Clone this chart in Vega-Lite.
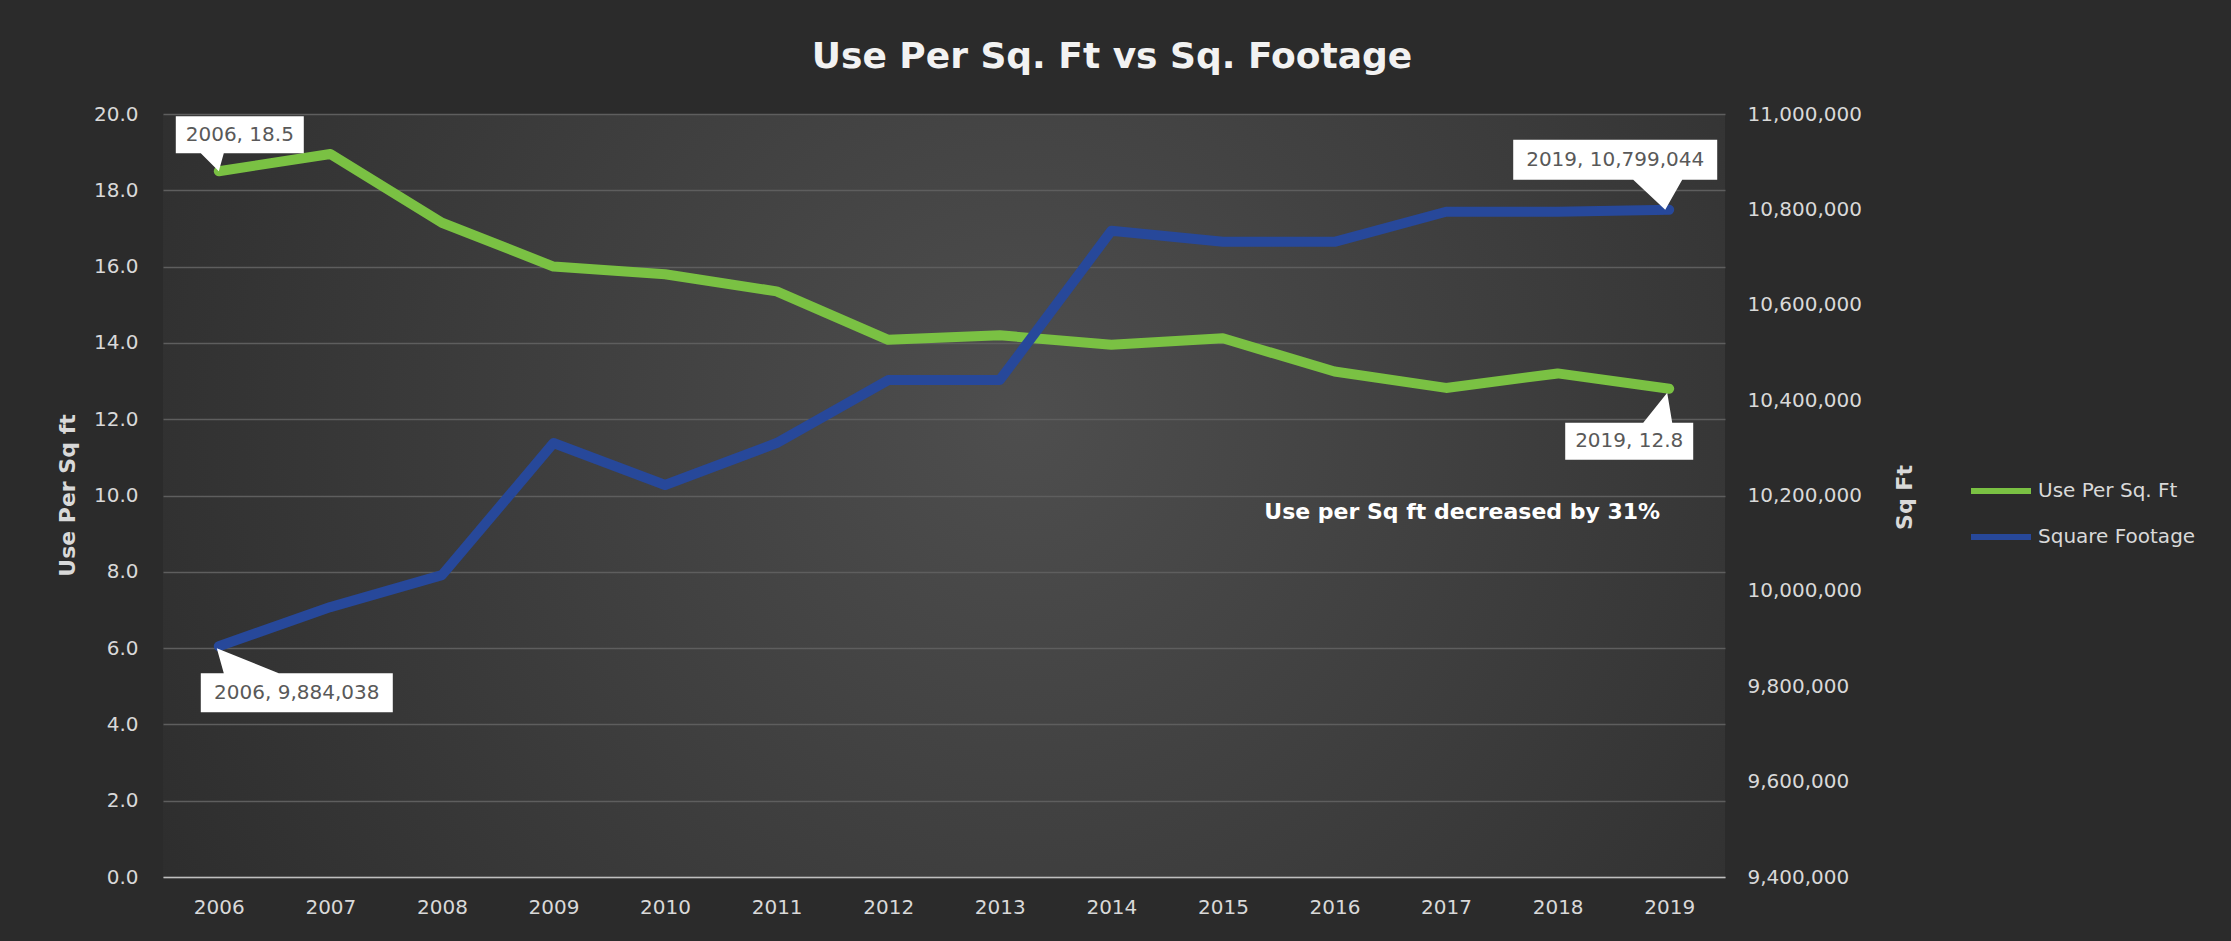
{
  "$schema": "https://vega.github.io/schema/vega-lite/v6.json",
  "width": 1562,
  "height": 763,
  "autosize": {"type": "none"},
  "padding": {"left": 163, "top": 114, "right": 506, "bottom": 64},
  "background": "#2b2b2b",
  "title": {
    "text": "Use Per Sq. Ft vs Sq. Footage",
    "font": "DejaVu Sans",
    "fontSize": 36,
    "fontWeight": "bold",
    "color": "#f2f2f2",
    "anchor": "middle",
    "frame": "group",
    "dx": 168,
    "baseline": "alphabetic",
    "offset": 0
  },
  "datasets": {
    "main": [
      {"year": "2006", "use": 18.5, "sqft": 9884038},
      {"year": "2007", "use": 18.95, "sqft": 9966000},
      {"year": "2008", "use": 17.15, "sqft": 10033000},
      {"year": "2009", "use": 16.0, "sqft": 10310000},
      {"year": "2010", "use": 15.8, "sqft": 10222000},
      {"year": "2011", "use": 15.35, "sqft": 10310000},
      {"year": "2012", "use": 14.08, "sqft": 10442000},
      {"year": "2013", "use": 14.2, "sqft": 10442000},
      {"year": "2014", "use": 13.95, "sqft": 10755000},
      {"year": "2015", "use": 14.12, "sqft": 10732000},
      {"year": "2016", "use": 13.25, "sqft": 10732000},
      {"year": "2017", "use": 12.82, "sqft": 10795000},
      {"year": "2018", "use": 13.2, "sqft": 10795000},
      {"year": "2019", "use": 12.8, "sqft": 10799044}
    ],
    "callouts": [
      {"id": "A", "year": "2006", "use": 18.5, "label": "2006, 18.5"},
      {"id": "D", "year": "2019", "use": 12.8, "label": "2019, 12.8"},
      {"id": "B", "year": "2006", "sqft": 9884038, "label": "2006,  9,884,038"},
      {"id": "C", "year": "2019", "sqft": 10799044, "label": "2019,  10,799,044"}
    ]
  },
  "encoding": {
    "x": {
      "field": "year",
      "type": "ordinal",
      "scale": {"type": "point", "padding": 0.5},
      "axis": {
        "title": null,
        "labelAngle": 0,
        "domain": true,
        "domainColor": "#bfbfbf",
        "domainWidth": 1.5,
        "labelPadding": 20,
        "grid": false
      }
    }
  },
  "layer": [
    {
      "encoding": {
        "y": {
          "field": "use",
          "type": "quantitative",
          "scale": {"domain": [0, 20], "nice": false, "zero": true},
          "axis": {
            "title": "Use Per Sq ft",
            "values": [0, 2, 4, 6, 8, 10, 12, 14, 16, 18, 20],
            "format": ".1f",
            "grid": true,
            "labelPadding": 25,
            "titleX": -96,
            "titleY": 381,
            "titleAngle": 270,
            "titleAlign": "center",
            "titleBaseline": "middle"
          }
        }
      },
      "layer": [
        {
          "data": {"name": "main"},
          "mark": {"type": "line", "strokeWidth": 10, "strokeJoin": "round", "strokeCap": "round"},
          "encoding": {
            "color": {
              "datum": "Use Per Sq. Ft",
              "scale": {"domain": ["Use Per Sq. Ft", "Square Footage"], "range": ["#7ac143", "#27489a"]},
              "legend": {"orient": "none", "legendX": 1805, "legendY": 344, "title": null}
            }
          }
        },
        {
          "data": {"name": "callouts"},
          "transform": [{"filter": "datum.id == 'A'"}],
          "mark": {"type": "point", "filled": true, "color": "#ffffff", "opacity": 1, "size": 4,
                   "shape": "M -43 -55 H 85 V -18 H 5 L 0 0 L -18 -18 H -43 Z"}
        },
        {
          "data": {"name": "callouts"},
          "transform": [{"filter": "datum.id == 'A'"}],
          "mark": {"type": "text", "align": "center", "baseline": "middle", "dx": 21, "dy": -36.5,
                   "font": "DejaVu Sans", "fontSize": 20, "color": "#595959"},
          "encoding": {"text": {"field": "label"}}
        },
        {
          "data": {"name": "callouts"},
          "transform": [{"filter": "datum.id == 'D'"}],
          "mark": {"type": "point", "filled": true, "color": "#ffffff", "opacity": 1, "size": 4,
                   "shape": "M -2 4 L 3 34 H 24 V 71 H -104 V 34 H -26 Z"}
        },
        {
          "data": {"name": "callouts"},
          "transform": [{"filter": "datum.id == 'D'"}],
          "mark": {"type": "text", "align": "center", "baseline": "middle", "dx": -40, "dy": 52.5,
                   "font": "DejaVu Sans", "fontSize": 20, "color": "#595959"},
          "encoding": {"text": {"field": "label"}}
        },
        {
          "data": {"name": "callouts"},
          "transform": [{"filter": "datum.id == 'D'"}],
          "mark": {"type": "text", "align": "center", "baseline": "middle", "dx": -207, "dy": 123,
                   "font": "DejaVu Sans", "fontSize": 22, "fontWeight": "bold", "color": "#ffffff",
                   "text": "Use per Sq ft decreased by 31%"}
        }
      ]
    },
    {
      "encoding": {
        "y": {
          "field": "sqft",
          "type": "quantitative",
          "scale": {"domain": [9400000, 11000000], "nice": false, "zero": false},
          "axis": {
            "orient": "right",
            "title": "Sq Ft",
            "values": [9400000, 9600000, 9800000, 10000000, 10200000, 10400000, 10600000, 10800000, 11000000],
            "format": ",.0f",
            "grid": false,
            "labelPadding": 22,
            "titleX": 179,
            "titleY": 383,
            "titleAngle": 270,
            "titleAlign": "center",
            "titleBaseline": "middle"
          }
        }
      },
      "layer": [
        {
          "data": {"name": "main"},
          "mark": {"type": "line", "strokeWidth": 10, "strokeJoin": "round", "strokeCap": "round"},
          "encoding": {
            "color": {
              "datum": "Square Footage",
              "scale": {"domain": ["Use Per Sq. Ft", "Square Footage"], "range": ["#7ac143", "#27489a"]},
              "legend": {"orient": "none", "legendX": 1805, "legendY": 344, "title": null}
            }
          }
        },
        {
          "data": {"name": "callouts"},
          "transform": [{"filter": "datum.id == 'B'"}],
          "mark": {"type": "point", "filled": true, "color": "#ffffff", "opacity": 1, "size": 4,
                   "shape": "M -2 2 L 60 27 H 174 V 66 H -18 V 27 H 5 Z"}
        },
        {
          "data": {"name": "callouts"},
          "transform": [{"filter": "datum.id == 'B'"}],
          "mark": {"type": "text", "align": "center", "baseline": "middle", "dx": 78, "dy": 46.5,
                   "font": "DejaVu Sans", "fontSize": 20, "color": "#595959"},
          "encoding": {"text": {"field": "label"}}
        },
        {
          "data": {"name": "callouts"},
          "transform": [{"filter": "datum.id == 'C'"}],
          "mark": {"type": "point", "filled": true, "color": "#ffffff", "opacity": 1, "size": 4,
                   "shape": "M -156 -70 H 48 V -30 H 13 L -4 0 L -36 -30 H -156 Z"}
        },
        {
          "data": {"name": "callouts"},
          "transform": [{"filter": "datum.id == 'C'"}],
          "mark": {"type": "text", "align": "center", "baseline": "middle", "dx": -54, "dy": -50,
                   "font": "DejaVu Sans", "fontSize": 20, "color": "#595959"},
          "encoding": {"text": {"field": "label"}}
        }
      ]
    }
  ],
  "resolve": {"scale": {"y": "independent"}},
  "config": {
    "font": "DejaVu Sans",
    "view": {
      "stroke": null,
      "fill": {
        "gradient": "radial",
        "x1": 0.55, "y1": 0.45, "r1": 0,
        "x2": 0.55, "y2": 0.45, "r2": 0.75,
        "stops": [{"offset": 0, "color": "#4e4e4e"}, {"offset": 1, "color": "#272727"}]
      }
    },
    "axis": {
      "labelFont": "DejaVu Sans",
      "labelFontSize": 20,
      "labelColor": "#d9d9d9",
      "titleFont": "DejaVu Sans",
      "titleFontSize": 22,
      "titleFontWeight": "bold",
      "titleColor": "#d9d9d9",
      "ticks": false,
      "tickSize": 0,
      "domain": false,
      "gridColor": "#5e5e5e",
      "gridWidth": 1.5
    },
    "legend": {
      "labelFont": "DejaVu Sans",
      "labelFontSize": 20,
      "labelColor": "#d9d9d9",
      "symbolType": "stroke",
      "symbolSize": 3600,
      "symbolStrokeWidth": 6,
      "rowPadding": 1,
      "labelOffset": 4
    }
  }
}
